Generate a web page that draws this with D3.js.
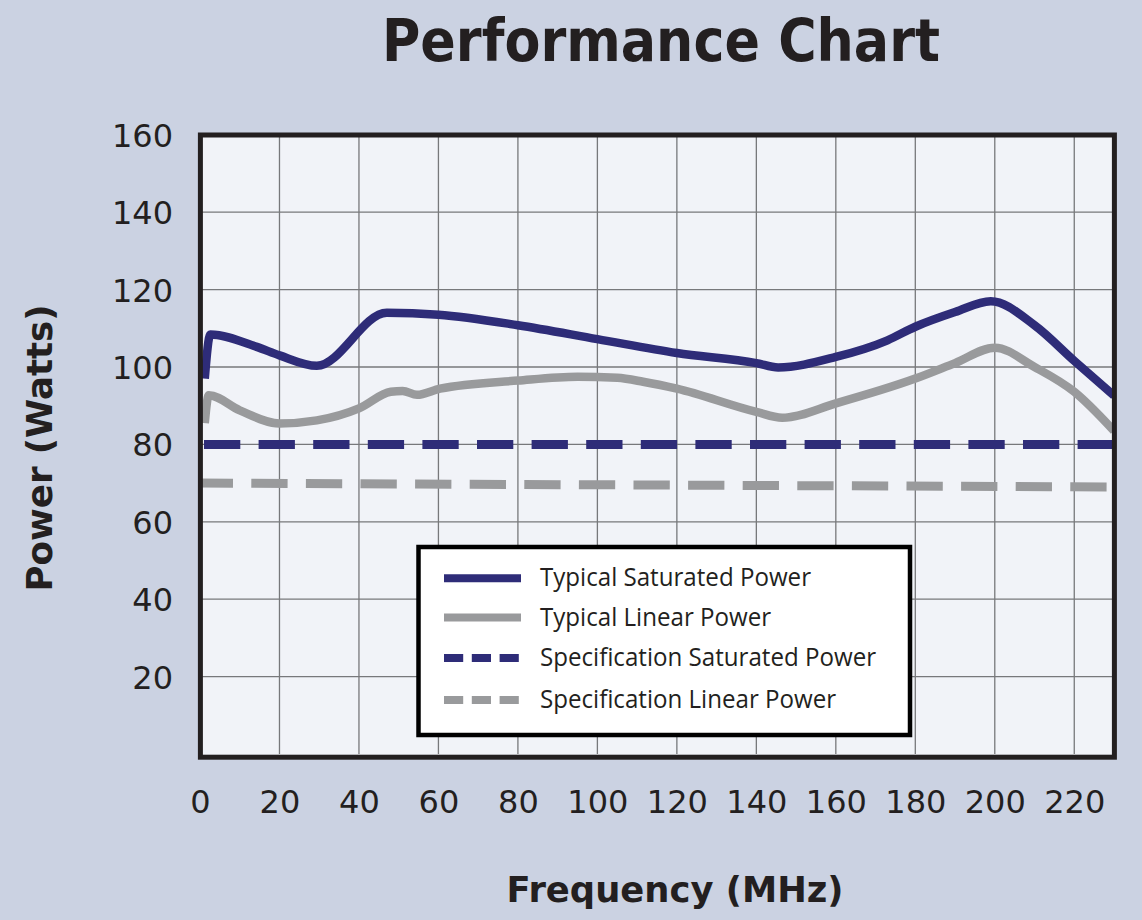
<!DOCTYPE html>
<html>
<head>
<meta charset="utf-8">
<script src="https://cdn.jsdelivr.net/npm/d3@7/dist/d3.min.js"></script>
<style>
  body { margin: 0; background: #cbd2e2; }
  svg { display: block; }
</style>
</head>
<body>
<div id="chart"></div>
<script>
// values
const satFreq  = [1.2, 2.6, 14.3, 20, 29.4, 47, 60, 80, 100, 120, 140, 145.5, 160, 173, 180, 190, 199, 210, 220, 230];
const satPower = [97, 108.4, 105.2, 103, 100.3, 114, 113.5, 110.8, 107.2, 103.6, 101, 99.9, 102.6, 106.9, 110.4, 114.2, 117, 110.8, 101.6, 92.6];

const linFreq  = [1.2, 2.2, 10, 20, 29.4, 40, 48, 51, 54.6, 60.4, 80, 95, 105, 111.5, 120, 140, 146.5, 160, 180, 190, 200, 210, 220, 230];
const linPower = [85.5, 92.7, 88.8, 85.4, 86.2, 89.3, 93.6, 93.8, 92.8, 94.4, 96.5, 97.5, 97.2, 96.2, 94.4, 88.4, 86.9, 90.6, 97, 101, 105, 100, 93.6, 83.5];

const specFreq = [0, 230];
const specSat  = [80, 80];
const specLin  = [70, 69];

const xTicks = [0, 20, 40, 60, 80, 100, 120, 140, 160, 180, 200, 220];
const yTicks = [20, 40, 60, 80, 100, 120, 140, 160];

const legendNames = ['Typical Saturated Power', 'Typical Linear Power', 'Specification Saturated Power', 'Specification Linear Power'];

const W = 1142, H = 920;
const NAVY = '#2e2c78', GREY = '#999a9c', INK = '#231f20';

const svg = d3.select('#chart').append('svg')
    .attr('width', W)
    .attr('height', H);

svg.append('rect').attr('width', W).attr('height', H).attr('fill', '#cbd2e2');

const x = d3.scaleLinear().domain([0, 230]).range([200, 1114]);
const y = d3.scaleLinear().domain([0, 160]).range([754, 134.8]);

// plot background
svg.append('rect')
    .attr('x', x(0)).attr('y', y(160))
    .attr('width', x(230) - x(0)).attr('height', y(0) - y(160) + 3)
    .attr('fill', '#f1f3f8');

// grid
const grid = svg.append('g').attr('class', 'grid');
grid.selectAll('line.v')
    .data(xTicks.filter(d => d > 0))
    .join('line')
    .attr('class', 'v')
    .attr('x1', d => x(d)).attr('x2', d => x(d))
    .attr('y1', y(160)).attr('y2', y(0))
    .attr('stroke', '#77787b').attr('stroke-width', 1.3);
grid.selectAll('line.h')
    .data(yTicks.filter(d => d < 160))
    .join('line')
    .attr('class', 'h')
    .attr('x1', x(0)).attr('x2', x(230))
    .attr('y1', d => y(d)).attr('y2', d => y(d))
    .attr('stroke', '#77787b').attr('stroke-width', 1.3);

// series
svg.append('clipPath').attr('id', 'plotClip')
    .append('rect')
    .attr('x', x(0)).attr('y', y(160))
    .attr('width', x(230) - x(0)).attr('height', y(0) - y(160));

const plot = svg.append('g').attr('clip-path', 'url(#plotClip)');

const line = d3.line()
    .x(d => x(d[0]))
    .y(d => y(d[1]))
    .curve(d3.curveMonotoneX);

const straight = d3.line()
    .x(d => x(d[0]))
    .y(d => y(d[1]));

const period = 54.6;

plot.append('path')
    .datum(d3.zip(specFreq, specLin))
    .attr('d', straight)
    .attr('fill', 'none')
    .attr('stroke', GREY)
    .attr('stroke-width', 9)
    .attr('stroke-dasharray', '36.3,18.3')
    .attr('stroke-dashoffset', 3.3);

plot.append('path')
    .datum(d3.zip(specFreq, specSat))
    .attr('d', straight)
    .attr('fill', 'none')
    .attr('stroke', NAVY)
    .attr('stroke-width', 9)
    .attr('stroke-dasharray', '36.3,18.3')
    .attr('stroke-dashoffset', period - 4);

plot.append('path')
    .datum(d3.zip(linFreq, linPower))
    .attr('d', line)
    .attr('fill', 'none')
    .attr('stroke', GREY)
    .attr('stroke-width', 8.5)
    .attr('stroke-linejoin', 'round');

plot.append('path')
    .datum(d3.zip(satFreq, satPower))
    .attr('d', line)
    .attr('fill', 'none')
    .attr('stroke', NAVY)
    .attr('stroke-width', 8.5)
    .attr('stroke-linejoin', 'round');

// frame
svg.append('rect')
    .attr('x', x(0) + 0.4).attr('y', y(160) + 0.2)
    .attr('width', x(230) - x(0))
    .attr('height', y(0) - y(160) + 3)
    .attr('fill', 'none')
    .attr('stroke', INK)
    .attr('stroke-width', 5);

// axes (labels only, no tick marks)
const xAxis = svg.append('g')
    .attr('transform', `translate(0,${y(0)})`)
    .call(d3.axisBottom(x).tickValues(xTicks).tickSize(0).tickPadding(0));
xAxis.select('.domain').remove();
xAxis.selectAll('text')
    .attr('dy', null)
    .attr('y', 59)
    .attr('fill', INK)
    .style('font-family', '"DejaVu Sans", Verdana, sans-serif')
    .style('font-size', '32px');

const yAxis = svg.append('g')
    .attr('transform', `translate(${x(0) - 27},0)`)
    .call(d3.axisLeft(y).tickValues(yTicks).tickSize(0).tickPadding(0));
yAxis.select('.domain').remove();
yAxis.selectAll('text')
    .attr('dy', '0.36em')
    .attr('fill', INK)
    .style('font-family', '"DejaVu Sans", Verdana, sans-serif')
    .style('font-size', '32px');

// titles
svg.append('text')
    .attr('x', 661).attr('y', 61)
    .attr('text-anchor', 'middle')
    .attr('fill', INK)
    .attr('textLength', 558)
    .attr('lengthAdjust', 'spacingAndGlyphs')
    .style('font-family', '"DejaVu Sans", Verdana, sans-serif')
    .style('font-weight', 'bold')
    .style('font-size', '58px')
    .text('Performance Chart');

svg.append('text')
    .attr('x', 675).attr('y', 902)
    .attr('text-anchor', 'middle')
    .attr('fill', INK)
    .attr('textLength', 337)
    .attr('lengthAdjust', 'spacingAndGlyphs')
    .style('font-family', '"DejaVu Sans", Verdana, sans-serif')
    .style('font-weight', 'bold')
    .style('font-size', '36px')
    .text('Frequency (MHz)');

svg.append('text')
    .attr('transform', 'translate(52,448) rotate(-90)')
    .attr('text-anchor', 'middle')
    .attr('fill', INK)
    .attr('textLength', 287)
    .attr('lengthAdjust', 'spacingAndGlyphs')
    .style('font-family', '"DejaVu Sans", Verdana, sans-serif')
    .style('font-weight', 'bold')
    .style('font-size', '36px')
    .text('Power (Watts)');

// legend
const legend = svg.append('g').attr('class', 'legend');
legend.append('rect')
    .attr('x', 418.5).attr('y', 547)
    .attr('width', 491.5).attr('height', 188)
    .attr('fill', '#ffffff')
    .attr('stroke', '#000000')
    .attr('stroke-width', 4.5);

const legendRows = [
    { name: legendNames[0], color: NAVY, dash: null, y: 578.3 },
    { name: legendNames[1], color: GREY, dash: null, y: 617.5 },
    { name: legendNames[2], color: NAVY, dash: '19.2,8.6', y: 658 },
    { name: legendNames[3], color: GREY, dash: '19.2,8.6', y: 700 }
];

const row = legend.selectAll('g.row')
    .data(legendRows)
    .join('g')
    .attr('class', 'row');
row.append('line')
    .attr('x1', 444).attr('x2', 521)
    .attr('y1', d => d.y).attr('y2', d => d.y)
    .attr('stroke', d => d.color)
    .attr('stroke-width', 8)
    .attr('stroke-dasharray', d => d.dash);
const labels = row.append('text')
    .attr('x', 540)
    .attr('y', d => d.y + 8)
    .attr('fill', INK)
    .style('font-family', '"Open Sans", "Noto Sans", sans-serif')
    .style('font-size', '26px')
    .text(d => d.name);

// the original face is a narrow one; squeeze the stand-in so the first label is ~271px wide
const squeeze = 271 / labels.node().getComputedTextLength();
labels.each(function () {
    const w = this.getComputedTextLength();
    d3.select(this).attr('textLength', w * squeeze).attr('lengthAdjust', 'spacingAndGlyphs');
});
</script>
</body>
</html>
